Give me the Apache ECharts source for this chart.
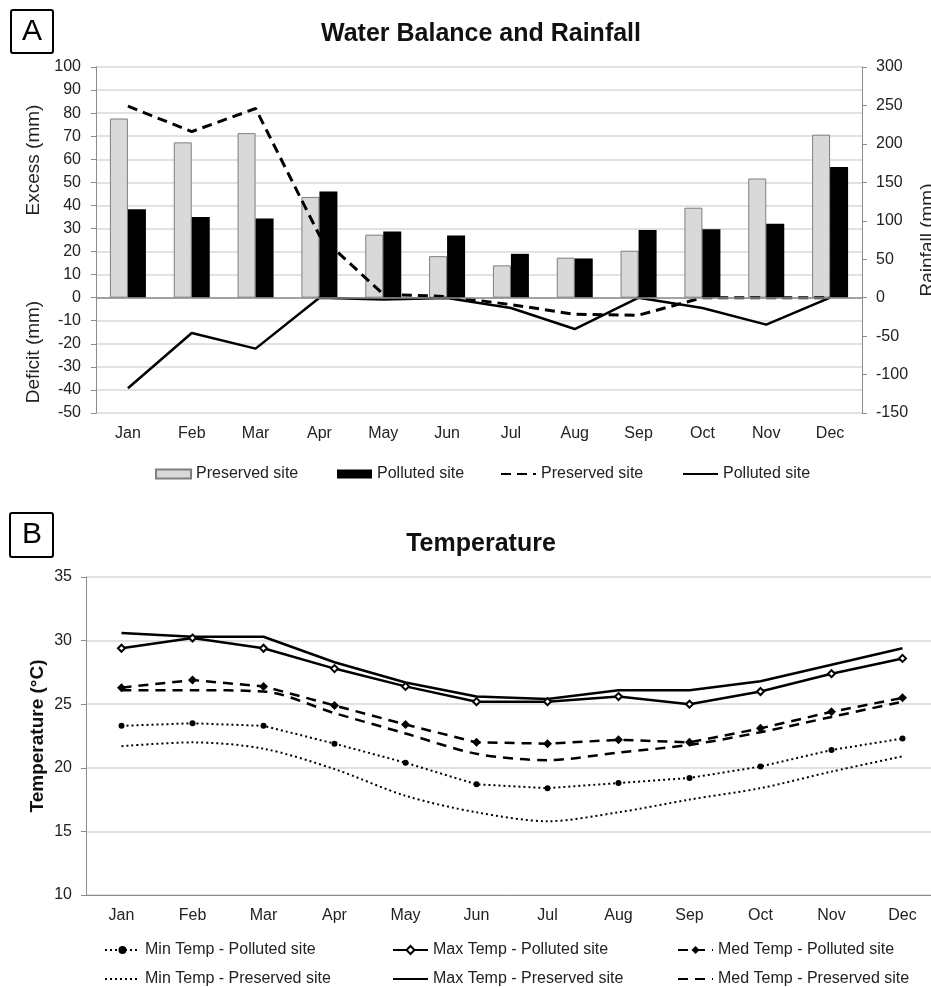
<!DOCTYPE html>
<html><head><meta charset="utf-8">
<script src="https://cdn.jsdelivr.net/npm/echarts@6/dist/echarts.min.js"></script>
<style>html,body{margin:0;padding:0;background:#fff}#c{width:931px;height:987px}</style>
</head><body><div id="c"></div>
<script>
const months = ['Jan','Feb','Mar','Apr','May','Jun','Jul','Aug','Sep','Oct','Nov','Dec'];
// Panel A: rainfall (mm, right axis)
const rainPreserved = [233, 202, 214, 131, 82, 54, 42, 52, 61, 117, 155, 212];
const rainPolluted  = [115, 105, 103, 138, 86, 81, 57, 51, 88, 89, 96, 170];
// Panel A: water balance excess/deficit (mm, left axis)
const balancePreserved = [83, 72, 82, 27, 1.5, 0.5, -3, -7.2, -7.6, 0, 0, 0];
const balancePolluted  = [-39.3, -15.3, -22.1, 0, -0.8, -0.1, -4.5, -13.6, 0, -4.5, -11.7, 0];
// Panel B: temperature (°C)
const minPolluted  = [23.3, 23.5, 23.3, 21.9, 20.4, 18.7, 18.4, 18.8, 19.2, 20.1, 21.4, 22.3];
const minPreserved = [21.7, 22.0, 21.5, 19.9, 17.8, 16.5, 15.8, 16.5, 17.5, 18.4, 19.7, 20.9];
const maxPolluted  = [29.4, 30.2, 29.4, 27.8, 26.4, 25.2, 25.2, 25.6, 25.0, 26.0, 27.4, 28.6];
const maxPreserved = [30.6, 30.3, 30.3, 28.3, 26.7, 25.6, 25.4, 26.1, 26.1, 26.8, 28.1, 29.4];
const medPolluted  = [26.3, 26.9, 26.4, 24.9, 23.4, 22.0, 21.9, 22.2, 22.0, 23.1, 24.4, 25.5];
const medPreserved = [26.1, 26.1, 26.0, 24.3, 22.7, 21.1, 20.6, 21.2, 21.8, 22.8, 24.0, 25.2];

const FONT = '"Liberation Sans", Arial, sans-serif';
const TXT = '#222';
const AXC = '#8c8c8c';
const GRIDC = '#d9d9d9';

const chart = echarts.init(document.getElementById('c'), null, {renderer:'canvas'});

function legend(name, left, top, icon) {
  const l = {
    data: [name], left: left, top: top, padding: 0, itemWidth: 35, itemHeight: 10,
    selectedMode: false, textStyle: {fontSize: 16, color: TXT, fontFamily: FONT}
  };
  if (icon) { l.icon = icon; l.itemHeight = 9; }
  return l;
}
const noSym = {color: 'rgba(0,0,0,0)'};

const option = {
  animation: false,
  backgroundColor: '#fff',
  textStyle: {fontFamily: FONT},
  grid: [
    {left: 96, top: 67, width: 766, height: 346, outerBoundsMode: 'none'},
    {left: 86, top: 577, width: 852, height: 318, outerBoundsMode: 'none'}
  ],
  xAxis: [
    {gridIndex: 0, type: 'category', data: months, axisLine: {show: false}, axisTick: {show: false},
     axisLabel: {fontSize: 16, color: TXT, margin: 13, fontFamily: FONT, interval: 0}},
    {gridIndex: 1, type: 'category', data: months, axisLine: {show: true, onZero: false, lineStyle: {color: AXC}},
     axisTick: {show: false}, axisLabel: {fontSize: 16, color: TXT, margin: 13, fontFamily: FONT, interval: 0}}
  ],
  yAxis: [
    {gridIndex: 0, type: 'value', min: -50, max: 100, interval: 10, position: 'left',
     axisLine: {show: true, lineStyle: {color: AXC}}, axisTick: {show: true, length: 5, lineStyle: {color: AXC}},
     axisLabel: {fontSize: 16, color: TXT, margin: 15, fontFamily: FONT},
     splitLine: {show: true, lineStyle: {color: GRIDC, width: 1.5}}},
    {gridIndex: 0, type: 'value', min: -150, max: 300, interval: 50, position: 'right',
     axisLine: {show: true, lineStyle: {color: AXC}}, axisTick: {show: true, length: 5, lineStyle: {color: AXC}},
     axisLabel: {fontSize: 16, color: TXT, margin: 14, fontFamily: FONT},
     splitLine: {show: false}},
    {gridIndex: 1, type: 'value', min: 10, max: 35, interval: 5,
     axisLine: {show: true, lineStyle: {color: AXC}}, axisTick: {show: true, length: 5, lineStyle: {color: AXC}},
     axisLabel: {fontSize: 16, color: TXT, margin: 14, fontFamily: FONT},
     splitLine: {show: true, lineStyle: {color: GRIDC, width: 1.5}}}
  ],
  legend: [
    legend('Preserved site', 155, 466, 'rect'),
    legend('Polluted site', 337, 466, 'rect'),
    legend('Preserved site ', 500, 466),
    legend('Polluted site ', 682, 466),
    legend('Min Temp - Polluted site', 104, 942),
    legend('Max Temp - Polluted site', 392, 942),
    legend('Med Temp - Polluted site', 677, 942),
    legend('Min Temp - Preserved site', 104, 971),
    legend('Max Temp - Preserved site', 392, 971),
    legend('Med Temp - Preserved site', 677, 971)
  ],
  series: [
    {name: 'Preserved site', type: 'bar', xAxisIndex: 0, yAxisIndex: 1, data: rainPreserved,
     barWidth: 18, barGap: '0%', itemStyle: {color: '#d9d9d9', borderColor: '#7f7f7f', borderWidth: 1}},
    {name: 'Polluted site', type: 'bar', xAxisIndex: 0, yAxisIndex: 1, data: rainPolluted,
     barWidth: 18, barGap: '0%', itemStyle: {color: '#000'}},
    {name: 'Preserved site ', type: 'line', xAxisIndex: 0, yAxisIndex: 0, data: balancePreserved,
     symbol: 'none', itemStyle: noSym, lineStyle: {color: '#000', width: 3, type: [10, 6]}},
    {name: 'Polluted site ', type: 'line', xAxisIndex: 0, yAxisIndex: 0, data: balancePolluted,
     symbol: 'none', itemStyle: noSym, lineStyle: {color: '#000', width: 2.5},
     markLine: {silent: true, symbol: 'none', label: {show: false}, animation: false,
       lineStyle: {color: AXC, type: 'solid', width: 1.5}, data: [{yAxis: 0}]}},

    {name: 'Min Temp - Preserved site', type: 'line', xAxisIndex: 1, yAxisIndex: 2, data: minPreserved,
     symbol: 'none', smooth: 0.3, itemStyle: noSym, lineStyle: {color: '#000', width: 2, type: [2, 3]}},
    {name: 'Med Temp - Preserved site', type: 'line', xAxisIndex: 1, yAxisIndex: 2, data: medPreserved,
     symbol: 'none', smooth: 0.3, itemStyle: noSym, lineStyle: {color: '#000', width: 2.5, type: [10, 7]}},
    {name: 'Max Temp - Preserved site', type: 'line', xAxisIndex: 1, yAxisIndex: 2, data: maxPreserved,
     symbol: 'none', itemStyle: noSym, lineStyle: {color: '#000', width: 2.5}},
    {name: 'Min Temp - Polluted site', type: 'line', xAxisIndex: 1, yAxisIndex: 2, data: minPolluted,
     symbol: 'circle', symbolSize: 6, itemStyle: {color: '#000'}, lineStyle: {color: '#000', width: 2, type: [2, 3]}},
    {name: 'Med Temp - Polluted site', type: 'line', xAxisIndex: 1, yAxisIndex: 2, data: medPolluted,
     symbol: 'diamond', symbolSize: 9, itemStyle: {color: '#000'}, lineStyle: {color: '#000', width: 2.5, type: [10, 7]}},
    {name: 'Max Temp - Polluted site', type: 'line', xAxisIndex: 1, yAxisIndex: 2, data: maxPolluted,
     symbol: 'emptyDiamond', symbolSize: 7, itemStyle: {color: '#000', borderWidth: 1.5}, lineStyle: {color: '#000', width: 2.5}}
  ],
  graphic: [
    {type: 'rect', shape: {x: 11, y: 10, width: 42, height: 43, r: 2}, style: {fill: 'none', stroke: '#000', lineWidth: 2}},
    {type: 'text', x: 32, y: 32, style: {text: 'A', font: '30px ' + FONT, fill: '#000', align: 'center', verticalAlign: 'middle'}},
    {type: 'rect', shape: {x: 10, y: 513, width: 43, height: 44, r: 2}, style: {fill: 'none', stroke: '#000', lineWidth: 2}},
    {type: 'text', x: 32, y: 535, style: {text: 'B', font: '30px ' + FONT, fill: '#000', align: 'center', verticalAlign: 'middle'}},
    {type: 'text', x: 481, y: 34, style: {text: 'Water Balance and Rainfall', font: 'bold 25px ' + FONT, fill: '#111', align: 'center', verticalAlign: 'middle'}},
    {type: 'text', x: 481, y: 544, style: {text: 'Temperature', font: 'bold 25px ' + FONT, fill: '#111', align: 'center', verticalAlign: 'middle'}},
    {type: 'text', x: 34, y: 160, rotation: Math.PI / 2, style: {text: 'Excess (mm)', font: '19px ' + FONT, fill: TXT, align: 'center', verticalAlign: 'middle'}},
    {type: 'text', x: 34, y: 352, rotation: Math.PI / 2, style: {text: 'Deficit (mm)', font: '19px ' + FONT, fill: TXT, align: 'center', verticalAlign: 'middle'}},
    {type: 'text', x: 928, y: 240, rotation: Math.PI / 2, style: {text: 'Rainfall (mm)', font: '19px ' + FONT, fill: TXT, align: 'center', verticalAlign: 'middle'}},
    {type: 'text', x: 38, y: 736, rotation: Math.PI / 2, style: {text: 'Temperature (°C)', font: 'bold 19px ' + FONT, fill: '#111', align: 'center', verticalAlign: 'middle'}}
  ]
};
chart.setOption(option);
</script>
</body></html>
